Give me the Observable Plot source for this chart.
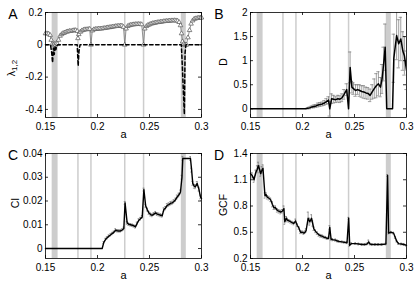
<!DOCTYPE html>
<html><head><meta charset="utf-8">
<script src="https://cdn.jsdelivr.net/npm/d3@7"></script>
<script src="https://cdn.jsdelivr.net/npm/@observablehq/plot@0.6"></script>
<style>
body{margin:0;background:#fff;}
#fig{position:relative;width:415px;height:287px;font-family:"Liberation Sans",Arial,sans-serif;background:#fff;overflow:hidden;}
.panel{position:absolute;}
.letter{position:absolute;font-size:14px;line-height:14px;transform:translate(-50%,-50%);}
.ylab{position:absolute;font-size:10.5px;line-height:11px;transform:translate(-50%,-50%) rotate(-90deg);white-space:nowrap;}
.ylab sub{font-size:8px;vertical-align:-2px;}
</style></head><body><div id="fig"></div>
<script>
// ---- shared axis data ----
const xTicks = [0.15, 0.2, 0.25, 0.3];
const bandStarts = [0.1564, 0.2806];
const bandEnds = [0.1621, 0.2854];
const grayLines = [0.1812, 0.1937, 0.2262, 0.2443];

// ---- Panel A: lambda_1,2 ----
const aTicksY = [-0.4, -0.2, 0, 0.2];
const lam1A = [0.150,0.1515,0.153,0.1545,0.1555,0.1565,0.1575,0.1585,0.1595,0.1605,0.1615,0.1625,0.164,0.1655,0.167,0.1685,0.17,0.1715,0.173,0.1745,0.176,0.1775,0.179,0.1805,0.1812,0.182,0.1835,0.185,0.1865,0.188,0.1895,0.191,0.1925,0.1937,0.195,0.1965,0.198,0.1995,0.201,0.2025,0.204,0.2055,0.207,0.2085,0.21,0.2115,0.213,0.2145,0.216,0.2175,0.219,0.2205,0.222,0.2235,0.225,0.2262,0.2275,0.229,0.2305,0.232,0.2335,0.235,0.2365,0.238,0.2395,0.241,0.2425,0.2443,0.2455,0.247,0.2485,0.25,0.2515,0.253,0.2545,0.256,0.2575,0.259,0.2605,0.262,0.2635,0.265,0.2665,0.268,0.2695,0.271,0.2725,0.274,0.2755,0.277,0.2785,0.2798,0.2808,0.2818,0.2828,0.2838,0.2848,0.2855,0.287,0.2885,0.29,0.2915,0.293,0.2945,0.296,0.2975,0.299,0.3];
const lam1V = [0.07,0.07,0.068,0.06,0.03,0.005,0,0.005,0,0.01,0.005,0.03,0.055,0.065,0.072,0.075,0.08,0.082,0.085,0.085,0.088,0.09,0.09,0.085,0.04,0.065,0.08,0.088,0.092,0.095,0.095,0.097,0.098,0,0.088,0.095,0.097,0.098,0.1,0.1,0.1,0.102,0.103,0.105,0.107,0.108,0.11,0.112,0.113,0.115,0.116,0.117,0.118,0.118,0.11,0,0.1,0.115,0.12,0.123,0.125,0.126,0.127,0.128,0.128,0.128,0.126,0,0.1,0.115,0.122,0.126,0.13,0.133,0.135,0.137,0.139,0.14,0.142,0.143,0.145,0.146,0.147,0.148,0.149,0.15,0.15,0.151,0.15,0.148,0.14,0.12,0.07,0.02,0.005,0,0,0,0.045,0.09,0.13,0.15,0.16,0.163,0.165,0.167,0.168,0.168,0.168];
const lam2A = [0.15,0.1548,0.1558,0.1568,0.1576,0.1584,0.1592,0.16,0.1608,0.1618,0.1805,0.1814,0.1822,0.1832,0.2806,0.2815,0.2825,0.2835,0.2842,0.285,0.3];
const lam2V = [0,0,-0.04,-0.11,-0.02,-0.06,-0.01,-0.03,-0.005,0,0,-0.13,-0.04,0,0,-0.12,-0.28,-0.43,-0.05,0,0];

// ---- Panel B: D ----
const bTicksY = [0, 0.5, 1, 1.5, 2];
const dA = [0.15,0.203,0.205,0.207,0.209,0.211,0.213,0.215,0.217,0.219,0.221,0.223,0.225,0.2262,0.228,0.23,0.232,0.234,0.236,0.238,0.24,0.2425,0.2443,0.2458,0.2475,0.249,0.251,0.253,0.255,0.257,0.259,0.261,0.263,0.265,0.267,0.269,0.271,0.273,0.275,0.2765,0.278,0.2795,0.281,0.2866,0.2878,0.2905,0.2925,0.2945,0.2965,0.298,0.3];
const dV = [0,0,0.01,0.02,0.04,0.05,0.06,0.08,0.09,0.1,0.12,0.15,0.18,0,0.21,0.2,0.19,0.21,0.2,0.23,0.3,0.4,0,0.86,0.45,0.42,0.38,0.4,0.38,0.36,0.35,0.33,0.32,0.28,0.35,0.42,0.48,0.52,0.45,0.62,0.93,1.28,0,0,1.05,1.52,1.35,1.45,1.2,1.1,0.8];
const dE = [0,0,0.01,0.02,0.02,0.03,0.03,0.04,0.04,0.04,0.05,0.06,0.07,0.15,0.1,0.08,0.06,0.07,0.07,0.08,0.1,0.12,0,0.32,0.12,0.12,0.12,0.1,0.12,0.12,0.13,0.12,0.12,0.13,0.15,0.2,0.25,0.25,0.2,0.3,0.35,0.48,0,0,0.5,0.5,0.5,0.45,0.4,0.4,0.4];

// ---- Panel C: CI ----
const cTicksY = [0, 0.01, 0.02, 0.03, 0.04];
const ciA = [0.15,0.2045,0.206,0.2077,0.2093,0.2109,0.2125,0.2141,0.2157,0.2173,0.219,0.2205,0.2221,0.2237,0.2253,0.2265,0.2285,0.23,0.2317,0.2334,0.235,0.2365,0.238,0.2397,0.2413,0.243,0.2446,0.2463,0.2478,0.2494,0.251,0.2526,0.2542,0.2558,0.2574,0.259,0.2606,0.2622,0.2638,0.2654,0.267,0.2686,0.2702,0.2718,0.2734,0.275,0.2766,0.2782,0.2798,0.2812,0.282,0.2894,0.2905,0.2916,0.293,0.2942,0.2958,0.2975,0.299,0.3];
const ciV = [0,0,0.0025,0.0038,0.0045,0.0052,0.0057,0.0063,0.0068,0.0077,0.0075,0.0074,0.0074,0.0078,0.0084,0.0192,0.0108,0.0102,0.01,0.0098,0.0095,0.0091,0.0105,0.0119,0.0125,0.0133,0.0248,0.018,0.0164,0.015,0.0143,0.014,0.0145,0.015,0.0145,0.0143,0.014,0.0138,0.0164,0.017,0.0182,0.0185,0.019,0.0192,0.0198,0.0205,0.0217,0.0225,0.0238,0.03,0.0379,0.0379,0.033,0.0274,0.0262,0.026,0.0274,0.025,0.0217,0.021];
const ciE = [0,0,0.0004,0.0005,0.0005,0.0005,0.0005,0.0005,0.0005,0.0006,0.0005,0.0005,0.0005,0.0005,0.0006,0.0006,0.0006,0.0005,0.0005,0.0005,0.0005,0.0005,0.0006,0.0006,0.0006,0.0006,0.0006,0.0006,0.0006,0.0006,0.0006,0.0006,0.0006,0.0006,0.0006,0.0006,0.0006,0.0006,0.0007,0.0007,0.0007,0.0007,0.0007,0.0007,0.0007,0.0007,0.0008,0.0008,0.0008,0.0008,0.0008,0.0008,0.0008,0.0008,0.0008,0.0008,0.0008,0.0008,0.0008,0.0008];

// ---- Panel D: GCF ----
const dTicksY = [0.2, 0.5, 0.8, 1.1, 1.4];
const gA = [0.15,0.1515,0.1534,0.155,0.1565,0.1575,0.1587,0.1598,0.161,0.162,0.1639,0.165,0.1661,0.1677,0.1694,0.171,0.1725,0.174,0.1757,0.1773,0.179,0.1805,0.1821,0.183,0.1845,0.1853,0.187,0.1885,0.19,0.1917,0.1933,0.1949,0.1965,0.1981,0.1997,0.2013,0.2025,0.2035,0.2054,0.207,0.2087,0.2098,0.2109,0.2125,0.2141,0.2157,0.2172,0.2188,0.2204,0.222,0.2236,0.225,0.2262,0.2275,0.229,0.2317,0.2335,0.235,0.238,0.24,0.2428,0.2444,0.2454,0.247,0.2509,0.254,0.2572,0.26,0.262,0.2636,0.265,0.2668,0.27,0.273,0.2764,0.2802,0.2818,0.2828,0.285,0.2876,0.2892,0.2905,0.2923,0.295,0.2975,0.3];
const gV = [1.17,1.15,1.1,1.18,1.22,1.26,1.22,1.17,1.21,1.23,0.92,0.93,0.9,0.89,0.87,0.82,0.78,0.78,0.75,0.74,0.73,0.74,0.77,0.62,0.66,0.64,0.63,0.62,0.61,0.6,0.63,0.58,0.55,0.5,0.5,0.49,0.5,0.52,0.66,0.62,0.66,0.6,0.54,0.51,0.49,0.47,0.46,0.455,0.445,0.44,0.43,0.43,0.555,0.42,0.415,0.41,0.4,0.395,0.39,0.385,0.38,0.66,0.35,0.37,0.37,0.365,0.36,0.36,0.365,0.39,0.365,0.36,0.36,0.36,0.36,0.365,1.15,0.49,0.5,0.49,0.44,0.4,0.37,0.365,0.36,0.35];
const gE = [0.03,0.03,0.03,0.03,0.04,0.04,0.04,0.03,0.04,0.04,0.03,0.02,0.02,0.02,0.02,0.03,0.02,0.02,0.02,0.02,0.02,0.02,0.03,0.03,0.02,0.02,0.015,0.015,0.015,0.015,0.02,0.015,0.015,0.015,0.015,0.015,0.015,0.02,0.07,0.04,0.04,0.03,0.02,0.015,0.015,0.015,0.015,0.015,0.012,0.012,0.012,0.012,0.02,0.012,0.012,0.012,0.01,0.01,0.01,0.01,0.01,0.01,0.01,0.01,0.01,0.01,0.01,0.01,0.01,0.02,0.01,0.01,0.01,0.01,0.01,0.01,0.01,0.01,0.01,0.01,0.01,0.01,0.01,0.01,0.01,0.01];

// ---------- drawing ----------
const fig = document.getElementById("fig");
const fmt = d => String(d);
const toRows = (xs, ys, es) => xs.map((x, i) => ({a: x, v: ys[i], e: es ? es[i] : 0}));

function panel({left, top, yDomain, yTicks, marks}) {
  const width = 207, height = 143, mL = 45, mR = 6, mT = 12, mB = 26;
  const pw = width - mL - mR, ph = height - mT - mB;
  const chart = Plot.plot({
    width, height, marginLeft: mL, marginRight: mR, marginTop: mT, marginBottom: mB,
    style: {fontFamily: "'Liberation Sans', Arial, sans-serif", fontSize: "10px", background: "transparent", overflow: "visible", color: "black"},
    x: {domain: [0.15, 0.3], ticks: xTicks, tickFormat: fmt, tickSize: 0, tickPadding: 5, label: null},
    y: {domain: yDomain, ticks: yTicks, tickFormat: fmt, tickSize: 0, tickPadding: 3, label: null},
    marks: [
      Plot.rect(bandStarts.map((s, i) => ({x1: s, x2: bandEnds[i]})), {x1: "x1", x2: "x2", fill: "#cdcdcd"}),
      Plot.ruleX(grayLines, {x: d => d, stroke: "#cdcdcd", strokeWidth: 1.5}),
      ...marks,
      Plot.frame({stroke: "black", strokeWidth: 0.8}),
      Plot.tickX(xTicks, {x: d => d, insetTop: ph - 3, stroke: "black", strokeWidth: 0.8}),
      Plot.tickX(xTicks, {x: d => d, insetBottom: ph - 3, stroke: "black", strokeWidth: 0.8}),
      Plot.tickY(yTicks, {y: d => d, insetRight: pw - 3, stroke: "black", strokeWidth: 0.8}),
      Plot.tickY(yTicks, {y: d => d, insetLeft: pw - 3, stroke: "black", strokeWidth: 0.8}),
      Plot.text(["a"], {text: d => d, frameAnchor: "bottom", dy: 20, fontSize: 11})
    ]
  });
  chart.classList.add("panel");
  chart.style.left = left + "px";
  chart.style.top = top + "px";
  fig.appendChild(chart);
}

function errMarks(rows, cap) {
  const r = rows.filter(d => d.e > 0);
  return [
    Plot.ruleX(r, {x: "a", y1: d => d.v - d.e, y2: d => d.v + d.e, stroke: "#777", strokeWidth: 0.7, clip: true}),
    Plot.ruleY(r, {x1: d => d.a - cap, x2: d => d.a + cap, y: d => d.v + d.e, stroke: "#777", strokeWidth: 0.7, clip: true}),
    Plot.ruleY(r, {x1: d => d.a - cap, x2: d => d.a + cap, y: d => d.v - d.e, stroke: "#777", strokeWidth: 0.7, clip: true})
  ];
}

// Panel A
const rowsL1 = toRows(lam1A, lam1V);
const rowsL2 = toRows(lam2A, lam2V);
panel({left: 0, top: 0, yDomain: [-0.45, 0.2], yTicks: aTicksY, marks: [
  Plot.line(rowsL1, {x: "a", y: "v", stroke: "#777", strokeWidth: 0.8}),
  Plot.dot(rowsL1, {x: "a", y: "v", symbol: "triangle", r: 1.7, fill: "white", stroke: "#555", strokeWidth: 0.7}),
  Plot.line(rowsL2, {x: "a", y: "v", stroke: "black", strokeWidth: 1.5, strokeDasharray: "3.5,2.5"})
]});

// Panel B
const rowsD = toRows(dA, dV, dE);
panel({left: 205, top: 0, yDomain: [-0.18, 2], yTicks: bTicksY, marks: [
  ...errMarks(rowsD, 0.0016),
  Plot.line(rowsD, {x: "a", y: "v", stroke: "black", strokeWidth: 1.5, clip: true})
]});

// Panel C
const rowsC = toRows(ciA, ciV, ciE);
panel({left: 0, top: 141, yDomain: [-0.0042, 0.04], yTicks: cTicksY, marks: [
  ...errMarks(rowsC, 0.0008),
  Plot.line(rowsC, {x: "a", y: "v", stroke: "black", strokeWidth: 1.4})
]});

// Panel D
const rowsG = toRows(gA, gV, gE);
panel({left: 205, top: 141, yDomain: [0.2, 1.4], yTicks: dTicksY, marks: [
  ...errMarks(rowsG, 0.0008),
  Plot.line(rowsG, {x: "a", y: "v", stroke: "black", strokeWidth: 1.4})
]});

// HTML labels
const letters = [["A", 13, 14], ["B", 219, 14], ["C", 13, 155], ["D", 219, 155]];
for (const [t, x, y] of letters) {
  const d = document.createElement("div");
  d.className = "letter"; d.textContent = t;
  d.style.left = x + "px"; d.style.top = y + "px";
  fig.appendChild(d);
}
const ylabs = [["λ<sub>1,2</sub>", 13, 68], ["D", 223, 62], ["CI", 15, 203], ["GCF", 223, 205]];
for (const [t, x, y] of ylabs) {
  const d = document.createElement("div");
  d.className = "ylab"; d.innerHTML = t;
  d.style.left = x + "px"; d.style.top = y + "px";
  fig.appendChild(d);
}
</script>
</body></html>
